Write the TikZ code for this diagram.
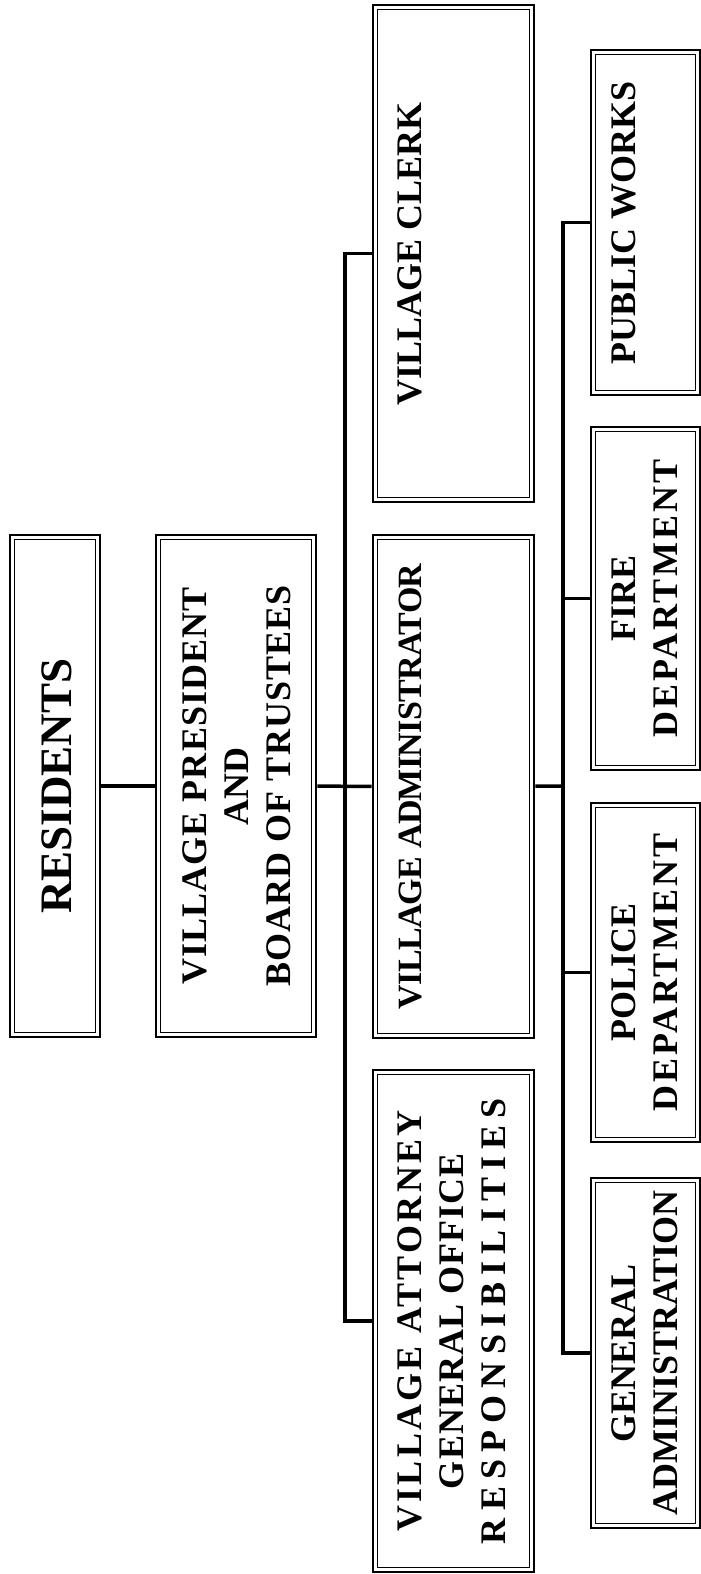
\documentclass[tikz,border=0pt]{standalone}
\usepackage{fontspec}
\setmainfont{Liberation Serif}
\usepackage{graphicx}
\newcommand{\boxlabel}[4]{\rotatebox{90}{\parbox[c][#2][t]{#1}{\centering\vspace*{#3}#4}}}
\newcommand{\spaced}[2]{{\addfontfeature{LetterSpace=#1}#2}}
\begin{document}
\begin{tikzpicture}[x=1pt,y=-1pt,
  orgbox/.style={draw,line width=2.6pt,inner sep=0pt,font=\bfseries\fontsize{36}{42}\selectfont},
  link/.style={line width=3.5pt}]
\useasboundingbox (0,0) rectangle (701,1574);

\node[orgbox,font=\bfseries\fontsize{45}{50}\selectfont] (res) at (55,786) {\boxlabel{502pt}{90pt}{32pt}{RESIDENTS}};
\node[orgbox] (pres) at (236,786) {\boxlabel{502pt}{160pt}{27pt}{\spaced{3}{VILLAGE PRESIDENT}\\AND\\\spaced{3}{BOARD OF TRUSTEES}}};

\node[orgbox] (clerk) at (453.5,253.5) {\boxlabel{497pt}{161pt}{25pt}{VILLAGE CLERK}};
\node[orgbox,font=\bfseries\fontsize{34}{42}\selectfont] (admin) at (453.5,786.5) {\boxlabel{503pt}{161pt}{26pt}{\spaced{-2}{VILLAGE ADMINISTRATOR}}};
\node[orgbox] (att) at (453.5,1321) {\boxlabel{502pt}{161pt}{25pt}{\spaced{9}{VILLAGE ATTORNEY}\\\spaced{3}{GENERAL OFFICE}\\\spaced{20}{RESPONSIBILITIES}}};

\node[orgbox] (pw) at (645.5,222.5) {\boxlabel{345pt}{109pt}{21pt}{PUBLIC WORKS}};
\node[orgbox] (fire) at (645.5,598.5) {\boxlabel{343pt}{109pt}{21pt}{FIRE\\\spaced{8}{DEPARTMENT}}};
\node[orgbox] (pol) at (645.5,972.5) {\boxlabel{339pt}{109pt}{21pt}{POLICE\\\spaced{8}{DEPARTMENT}}};
\node[orgbox] (ga) at (645.5,1353) {\boxlabel{350pt}{109pt}{21pt}{GENERAL\\ADMINISTRATION}};

\foreach \n in {res,pres,clerk,admin,att,pw,fire,pol,ga}{
  \draw[line width=1.2pt] ([xshift=6pt,yshift=6pt]\n.south west) rectangle ([xshift=-6pt,yshift=-6pt]\n.north east);
}

\coordinate (bus1) at (345,786);
\coordinate (bus2) at (563,786);

\draw[link] (res) -- (pres);
\draw[link] (pres) -- (admin);
\draw[link] (clerk.west) -| (bus1) |- (att.west);
\draw[link] (admin) -- (bus2);
\draw[link] (pw.west) -| (bus2) |- (ga.west);
\draw[link] (fire.west) -| (bus2);
\draw[link] (pol.west) -| (bus2);

\end{tikzpicture}
\end{document}
